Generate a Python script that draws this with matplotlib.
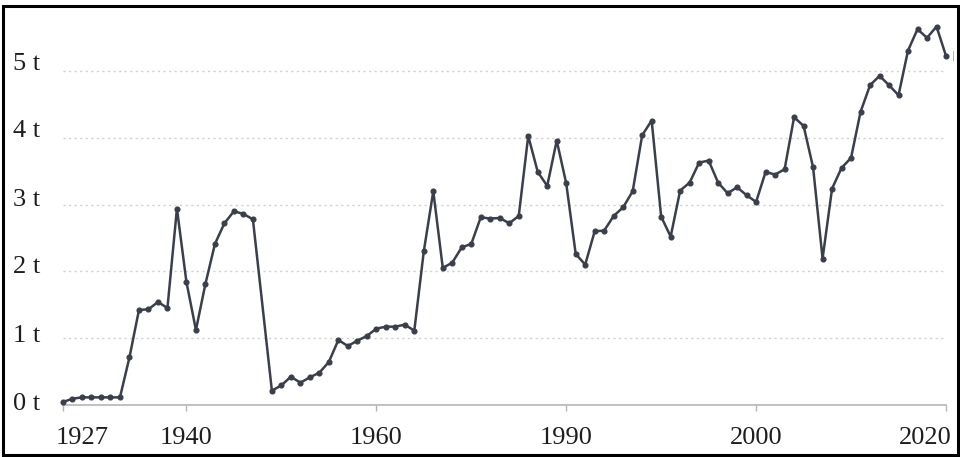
import numpy as np
import matplotlib
matplotlib.use("Agg")
import matplotlib.pyplot as plt
import matplotlib.transforms as mtransforms
from matplotlib.patches import Rectangle

years = list(range(1927, 2021))
values = [
    0.04, 0.09, 0.11, 0.11, 0.11, 0.11, 0.11, 0.71, 1.42, 1.43,   # 1927-1936
    1.54, 1.45, 2.94, 1.84, 1.12, 1.81, 2.41, 2.72, 2.90, 2.86,   # 1937-1946
    2.78, np.nan, 0.21, 0.29, 0.42, 0.33, 0.41, 0.48, 0.64, 0.97,  # 1947-1956
    0.88, 0.96, 1.03, 1.14, 1.17, 1.17, 1.20, 1.11, 2.30, 3.20,   # 1957-1966
    2.05, 2.13, 2.36, 2.41, 2.81, 2.79, 2.80, 2.72, 2.83, 4.03,   # 1967-1976
    3.49, 3.28, 3.96, 3.32, 2.26, 2.10, 2.60, 2.61, 2.83, 2.96,   # 1977-1986
    3.20, 4.04, 4.26, 2.82, 2.52, 3.21, 3.33, 3.63, 3.66, 3.33,   # 1987-1996
    3.17, 3.26, 3.14, 3.04, 3.49, 3.45, 3.53, 4.31, 4.18, 3.56,   # 1997-2006
    2.19, 3.24, 3.55, 3.70, 4.39, 4.79, 4.93, 4.79, 4.64, 5.31,   # 2007-2016
    5.63, 5.50, 5.67, 5.23,                                       # 2017-2020
]
xtick_years = [1927, 1940, 1960, 1980, 2000, 2020]
xtick_labels = ["1927", "1940", "1960", "1990", "2000", "2020"]
ytick_values = [0, 1, 2, 3, 4, 5]
ytick_labels = ["0 t", "1 t", "2 t", "3 t", "4 t", "5 t"]

W, H = 960, 457
fig = plt.figure(figsize=(W / 100, H / 100), dpi=100)
fig.patch.set_facecolor("white")

ymax = 5.9
bottom_px = 404.7
scale = 66.7
ax = fig.add_axes([63 / W, (H - bottom_px) / H, (946 - 63) / W, ymax * scale / H])
ax.set_facecolor("white")

x = np.array(years, dtype=float)
y = np.array(values, dtype=float)
mask = ~np.isnan(y)
line_color = "#3b3f4b"
ax.plot(x[mask], y[mask], color=line_color, lw=1.8, marker="o", ms=3.4,
        markerfacecolor=line_color, markeredgecolor=line_color, clip_on=False, zorder=3)

ax.annotate("|", xy=(x[-1], y[-1]), xytext=(5.5, 0), textcoords="offset points",
            fontsize=7, color="#999999", va="center", ha="center")

ax.set_xlim(1927, 2020)
ax.set_ylim(0, ymax)

for v in ytick_values[1:]:
    ax.axhline(v, color="#cfcfcf", lw=1.0, ls=(0, (1.5, 2.5)), zorder=1)

for s in ["top", "right", "left"]:
    ax.spines[s].set_visible(False)
ax.spines["bottom"].set_color("#b5b5b5")
ax.spines["bottom"].set_linewidth(1.2)

serif = ["Liberation Serif", "DejaVu Serif"]
fs = 19
ax.set_yticks(ytick_values)
ax.set_yticklabels(ytick_labels, fontsize=fs, family=serif, color="#1e1e1e")
ax.tick_params(axis="y", length=0, pad=16.5)
off_y = [3, 5, 7, 7, 9, 10]
for lab, oy in zip(ax.get_yticklabels(), off_y):
    lab.set_transform(lab.get_transform() + mtransforms.ScaledTranslation(0, oy / 100, fig.dpi_scale_trans))

ax.set_xticks(xtick_years)
ax.set_xticklabels(xtick_labels, fontsize=fs, family=serif, color="#1e1e1e")
ax.tick_params(axis="x", length=4.3, width=1.0, color="#b5b5b5", pad=12, direction="out")
xl = ax.get_xticklabels()
xl[0].set_transform(xl[0].get_transform() + mtransforms.ScaledTranslation(19 / 100, 0, fig.dpi_scale_trans))
xl[-1].set_transform(xl[-1].get_transform() + mtransforms.ScaledTranslation(-21 / 100, 0, fig.dpi_scale_trans))

fig.patches.append(Rectangle((3 / W, 2 / H), 955 / W, 449 / H, transform=fig.transFigure,
                             fill=False, edgecolor="black", lw=2.2, zorder=10))

fig.savefig("out.png", dpi=100, facecolor="white")
